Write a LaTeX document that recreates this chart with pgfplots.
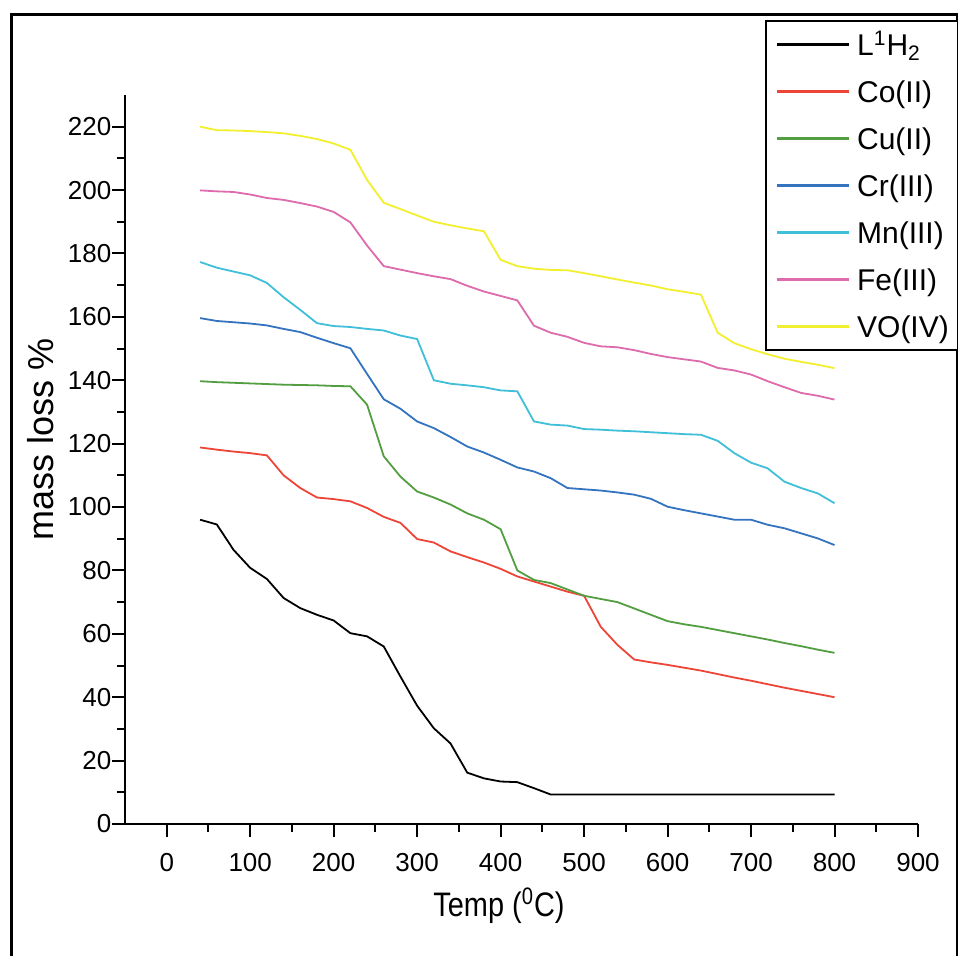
\documentclass[border=0pt]{standalone}
\usepackage{fontspec}
\setmainfont{Liberation Sans}
\newfontfamily\tickfont{Liberation Sans}
\newfontfamily\xlabfont{Liberation Sans}[FakeStretch=0.85]
\newfontfamily\ylabfont{Liberation Sans}
\newfontfamily\legfont{Liberation Sans}
\usepackage{pgfplots}
\pgfplotsset{compat=1.18}
\usepackage{pgfplotstable}

\definecolor{coRed}{rgb}{0.93,0.27,0.22}
\definecolor{cuGreen}{rgb}{0.32,0.62,0.25}
\definecolor{crBlue}{rgb}{0.20,0.45,0.75}
\definecolor{mnCyan}{rgb}{0.25,0.75,0.85}
\definecolor{fePink}{rgb}{0.87,0.42,0.67}
\definecolor{voYellow}{rgb}{0.95,0.94,0.18}

\pgfplotstableread{
T   L     Co     Cu     Cr     Mn     Fe     VO
40  96.0  118.8  139.7  159.6  177.3  199.9  220.0
60  94.5  118.1  139.4  158.7  175.5  199.6  218.9
80  86.5  117.5  139.2  158.3  174.3  199.4  218.8
100 80.8  117.0  139.0  157.9  173.1  198.6  218.6
120 77.3  116.3  138.8  157.3  170.7  197.5  218.3
140 71.3  110.0  138.6  156.2  166.2  196.9  217.9
160 68.1  106.0  138.5  155.2  162.2  195.9  217.1
180 66.0  103.0  138.4  153.4  158.0  194.8  216.1
200 64.2  102.5  138.2  151.7  157.1  193.1  214.7
220 60.2  101.8  138.1  150.1  156.8  189.8  212.7
240 59.2  99.7   132.3  142.0  156.2  182.5  203.2
260 56.0  96.9   116.0  134.0  155.7  176.0  196.0
280 46.5  95.0   109.6  131.0  154.1  174.9  194.0
300 37.3  89.9   104.9  127.0  153.0  173.8  192.0
320 30.2  88.8   103.0  124.9  140.0  172.8  190.0
340 25.4  86.0   100.8  122.1  138.9  171.9  188.9
360 16.2  84.2   98.0   119.1  138.4  169.8  187.9
380 14.4  82.5   96.0   117.2  137.8  168.0  187.0
400 13.4  80.5   93.0   114.9  136.8  166.6  178.0
420 13.2  78.1   80.0   112.5  136.5  165.2  176.0
440 11.3  76.5   77.0   111.2  127.0  157.2  175.2
460 9.3   74.9   76.0   109.1  126.0  155.0  174.8
480 9.3   73.3   74.0   106.0  125.7  153.7  174.7
500 9.3   72.0   72.0   105.6  124.6  151.8  173.8
520 9.3   62.2   71.0   105.2  124.4  150.7  172.8
540 9.3   56.5   70.0   104.6  124.1  150.4  171.8
560 9.3   51.9   68.0   103.9  123.9  149.5  170.8
580 9.3   51.0   66.0   102.6  123.6  148.3  169.9
600 9.3   50.2   64.0   100.1  123.3  147.3  168.7
620 9.3   49.3   63.0   99.0   123.0  146.6  167.9
640 9.3   48.4   62.2   98.0   122.8  145.9  167.0
660 9.3   47.3   61.2   97.0   120.9  143.9  155.0
680 9.3   46.2   60.2   96.0   117.0  143.1  151.7
700 9.3   45.2   59.2   96.0   114.0  141.8  149.8
720 9.3   44.1   58.2   94.4   112.2  139.7  148.2
740 9.3   43.0   57.1   93.3   108.0  137.8  146.8
760 9.3   42.0   56.1   91.7   106.0  136.0  145.8
780 9.3   41.0   55.0   90.1   104.3  135.1  144.9
800 9.3   40.0   54.0   88.0   101.2  133.9  143.8
}\data

\newcommand{\legent}[1]{\hspace*{2pt}\makebox[44pt][l]{#1}}

\begin{document}
\begin{tikzpicture}
\useasboundingbox (0,0) rectangle (479pt,478pt);
\fill[white] (0,0) rectangle (479pt,478pt);
\draw[line width=1.5pt] (5.5pt,-5pt) rectangle (478.5pt,470.5pt);
\begin{axis}[
  at={(62.5pt,66pt)}, anchor=south west,
  scale only axis, width=396.5pt, height=364.5pt,
  xmin=-50, xmax=900, ymin=0, ymax=230,
  axis lines*=left,
  axis line style={line width=1.3pt},
  xtick={0,100,...,900}, ytick={0,20,...,220},
  minor x tick num=1, minor y tick num=1,
  tick align=outside,
  major tick length=6.3pt, minor tick length=3.8pt,
  every tick/.style={line width=1pt, black},
  /pgf/number format/assume math mode=true,
  tick label style={font=\tickfont\fontsize{13}{15}\selectfont},
  xticklabel style={yshift=-5pt},
  yticklabel style={xshift=3pt},
  xlabel={Temp (\textsuperscript{0}C)},
  ylabel={mass loss \%},
  xlabel style={font=\xlabfont\fontsize{17}{19}\selectfont, at={(ticklabel cs:0.4716)}, yshift=-1pt},
  ylabel style={font=\ylabfont\fontsize{18}{20}\selectfont, at={(ticklabel cs:0.527)}},
  legend style={draw=black, line width=1pt, at={(0.807,1.1029)}, anchor=north west,
    inner xsep=5pt, inner ysep=0pt, row sep=0pt,
    nodes={inner ysep=0pt, inner xsep=1.5pt, text height=17.25pt, text depth=6.25pt},
    font=\legfont\fontsize{15}{17}\selectfont},
  legend cell align=left,
  legend image code/.code={\draw[#1, line width=1.1pt] (0pt,0pt) -- (36pt,0pt);},
  every axis plot/.append style={line width=0.9pt},
]
\addplot[black] table[x=T, y=L] {\data};
\addlegendentry{\legent{L\textsuperscript{1}H\textsubscript{2}}}
\addplot[coRed] table[x=T, y=Co] {\data};
\addlegendentry{\legent{Co(II)}}
\addplot[cuGreen] table[x=T, y=Cu] {\data};
\addlegendentry{\legent{Cu(II)}}
\addplot[crBlue] table[x=T, y=Cr] {\data};
\addlegendentry{\legent{Cr(III)}}
\addplot[mnCyan] table[x=T, y=Mn] {\data};
\addlegendentry{\legent{Mn(III)}}
\addplot[fePink] table[x=T, y=Fe] {\data};
\addlegendentry{\legent{Fe(III)}}
\addplot[voYellow] table[x=T, y=VO] {\data};
\addlegendentry{\legent{VO(IV)}}
\end{axis}
\end{tikzpicture}
\end{document}
